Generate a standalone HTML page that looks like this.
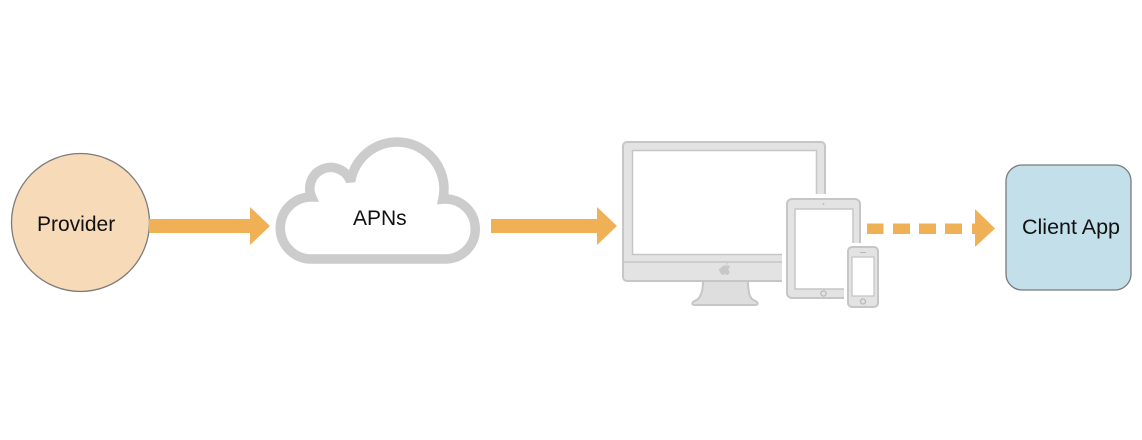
<!DOCTYPE html>
<html><head><meta charset="utf-8"><style>
html,body{margin:0;padding:0;background:#fff;}
svg{display:block;}
text{font-family:"Liberation Sans",Arial,sans-serif;fill:#111;}
</style></head><body>
<svg width="1142" height="440" viewBox="0 0 1142 440" xmlns="http://www.w3.org/2000/svg">
<rect width="1142" height="440" fill="#fff"/>
<!-- Provider -->
<circle cx="80.5" cy="222.5" r="69" fill="#F7DAB8" stroke="#7c7c7c" stroke-width="1.3"/>
<text x="37" y="231" font-size="21">Provider</text>
<!-- arrow 1 -->
<polygon points="149,219 250,219 250,207 270,226 250,245 250,233 149,233" fill="#EFB056"/>
<!-- cloud -->
<path d="M311,259 A31,31 0 1 1 311.6,197 A21,21 0 1 1 350.6,181.5 A47,47 0 1 1 442.9,199.1 A30,30 0 1 1 446,259 Z" fill="#fff" stroke="#cccccc" stroke-width="9.5" stroke-linejoin="miter" stroke-miterlimit="3"/>
<text x="353" y="225" font-size="21">APNs</text>
<!-- arrow 2 -->
<polygon points="491,219 597,219 597,207 617,226 597,245 597,233 491,233" fill="#EFB056"/>
<!-- monitor -->
<rect x="623" y="142" width="202" height="139" rx="4" fill="#e3e3e3" stroke="#c6c6c6" stroke-width="2"/>
<rect x="632.5" y="150.5" width="184" height="104" fill="#fff" stroke="#c6c6c6" stroke-width="1.5"/>
<line x1="624" y1="262" x2="824" y2="262" stroke="#c6c6c6" stroke-width="1.5"/>
<path d="M722,267 c1,-2 3,-2 4,-1 c1,-1 3,-1 4,1 c-2,1 -2,4 0,5 c-1,2 -2,3 -3,3 c-1,0 -1,-1 -2,-1 c-1,0 -1,1 -2,1 c-2,0 -4,-4 -4,-6 z M726,265 c0,-1 1,-2 2,-2 c0,1 -1,2 -2,2 z" fill="#c8c8c8"/>
<path d="M703,281 L748,281 C748,290 749,296 752,299 L757,302 Q759,305 755,305 L695,305 Q691,305 693,302 L698,299 C701,296 703,290 703,281 Z" fill="#dedede" stroke="#c6c6c6" stroke-width="2"/>
<!-- tablet -->
<rect x="782" y="194" width="83" height="110" fill="#fff"/>
<rect x="787" y="199" width="73" height="99" rx="5" fill="#e3e3e3" stroke="#c6c6c6" stroke-width="2"/>
<rect x="795" y="209" width="58" height="80" fill="#fff" stroke="#c6c6c6" stroke-width="1.5"/>
<circle cx="823.5" cy="293.5" r="2.6" fill="none" stroke="#b8b8b8" stroke-width="1.3"/>
<circle cx="823.5" cy="204" r="0.9" fill="#b8b8b8"/>
<!-- phone -->
<rect x="844" y="243" width="38" height="68" fill="#fff"/>
<rect x="848" y="247" width="30" height="60" rx="4" fill="#e3e3e3" stroke="#c6c6c6" stroke-width="2"/>
<rect x="852" y="257" width="22" height="39" fill="#fff" stroke="#c6c6c6" stroke-width="1.3"/>
<circle cx="863" cy="301.5" r="2.5" fill="none" stroke="#b8b8b8" stroke-width="1.3"/>
<line x1="860" y1="252.5" x2="866" y2="252.5" stroke="#b8b8b8" stroke-width="1"/>
<!-- dashed arrow -->
<g fill="#EFB056">
<rect x="867" y="223.5" width="16.5" height="10.5"/>
<rect x="893" y="223.5" width="17" height="10.5"/>
<rect x="919" y="223.5" width="17" height="10.5"/>
<rect x="945" y="223.5" width="17" height="10.5"/>
<rect x="972" y="223.5" width="5" height="10.5"/>
<polygon points="975,209 995,228.5 975,247"/>
</g>
<!-- client app -->
<rect x="1006" y="165" width="125" height="125" rx="16" fill="#C2DFEA" stroke="#7a7a7a" stroke-width="1.3"/>
<text x="1022" y="234" font-size="21.5">Client App</text>
</svg>
</body></html>
